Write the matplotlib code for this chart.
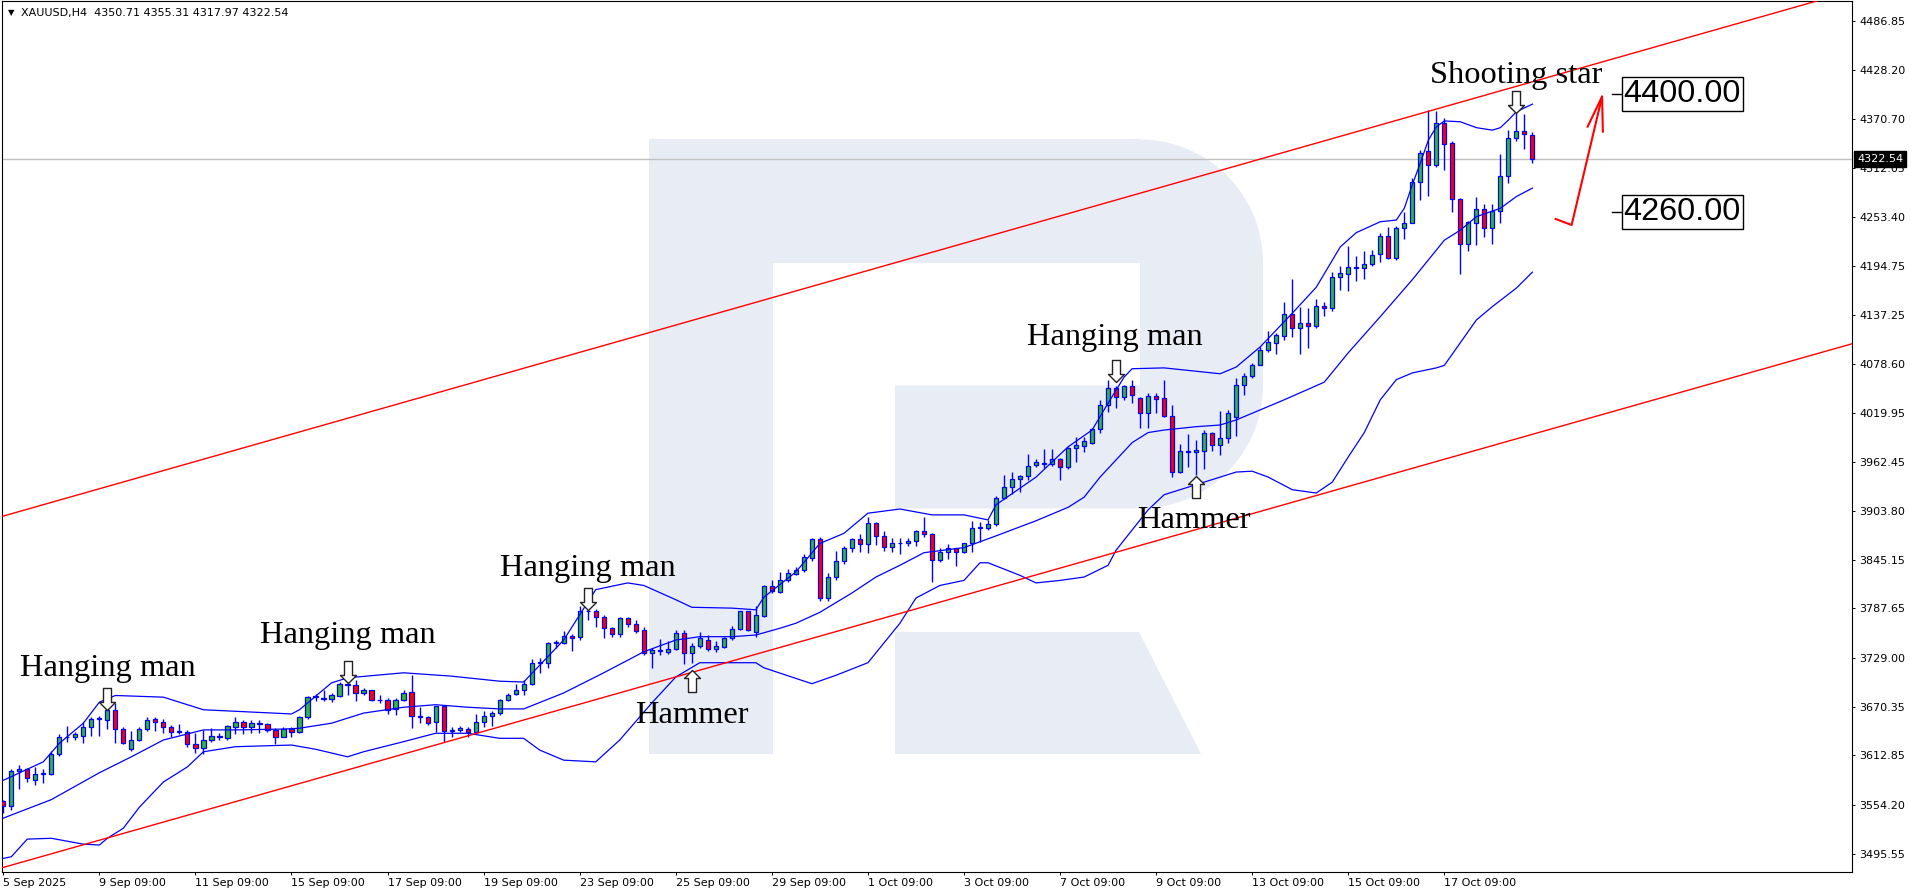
import numpy as np
import matplotlib
matplotlib.use('Agg')
import matplotlib.pyplot as plt
from matplotlib.path import Path
from matplotlib.patches import Polygon, Rectangle

# header of the chart window
header_text = 'XAUUSD,H4  4350.71 4355.31 4317.97 4322.54'
last_price = 4322.54

# H4 candles, first one is 5 Sep 2025 09:00
opens = [3558, 3553, 3594, 3597, 3583, 3590, 3591, 3614, 3634, 3634,
         3636, 3647, 3656, 3655, 3667, 3644, 3620, 3631, 3644, 3656,
         3652, 3647, 3641, 3641, 3626, 3622, 3631, 3635, 3633, 3647,
         3653, 3647, 3651, 3650, 3643, 3635, 3644, 3641, 3658, 3682,
         3681, 3680, 3683, 3698, 3696, 3687, 3690, 3679, 3679, 3668,
         3679, 3688, 3660, 3658, 3652, 3671, 3642, 3643, 3644, 3640,
         3653, 3659, 3663, 3679, 3686, 3690, 3698, 3723, 3723, 3747,
         3747, 3755, 3754, 3785, 3785, 3778, 3764, 3757, 3776, 3769,
         3762, 3734, 3737, 3736, 3739, 3758, 3734, 3743, 3750, 3739,
         3742, 3752, 3763, 3784, 3759, 3779, 3814, 3807, 3822, 3829,
         3833, 3848, 3870, 3800, 3825, 3844, 3859, 3870, 3864, 3889,
         3874, 3861, 3865, 3865, 3868, 3880, 3876, 3845, 3855, 3859,
         3855, 3865, 3883, 3883, 3888, 3919, 3932, 3942, 3945, 3958,
         3961, 3959, 3965, 3956, 3979, 3981, 3984, 4001, 4030, 4050,
         4039, 4052, 4038, 4020, 4040, 4038, 4017, 3950, 3975, 3974,
         3975, 3996, 3982, 3990, 4015, 4054, 4064, 4078, 4095, 4104,
         4112, 4138, 4122, 4128, 4124, 4148, 4145, 4182, 4186, 4194,
         4193, 4198, 4210, 4231, 4205, 4240, 4247, 4295, 4332, 4315,
         4366, 4342, 4275, 4222, 4247, 4263, 4241, 4261, 4302, 4348,
         4356, 4350.71]
highs = [3560, 3596, 3601, 3598, 3599, 3597, 3618, 3638, 3648, 3640,
         3653, 3658, 3659, 3669, 3675, 3646, 3642, 3646, 3658, 3658,
         3656, 3649, 3650, 3643, 3639, 3643, 3645, 3639, 3649, 3658,
         3655, 3655, 3655, 3651, 3645, 3646, 3646, 3660, 3683, 3686,
         3690, 3687, 3700, 3700, 3703, 3693, 3691, 3684, 3681, 3681,
         3690, 3708, 3670, 3660, 3672, 3672, 3647, 3648, 3646, 3662,
         3665, 3665, 3680, 3687, 3698, 3702, 3727, 3729, 3748, 3750,
         3761, 3757, 3791, 3789, 3787, 3780, 3766, 3777, 3778, 3774,
         3765, 3740, 3751, 3749, 3762, 3762, 3746, 3760, 3756, 3749,
         3754, 3767, 3785, 3785, 3790, 3816, 3821, 3831, 3834, 3837,
         3853, 3872, 3873, 3830, 3856, 3862, 3872, 3876, 3897, 3891,
         3880, 3871, 3871, 3872, 3881, 3897, 3877, 3860, 3864, 3860,
         3866, 3892, 3891, 3893, 3921, 3946, 3950, 3947, 3971, 3965,
         3978, 3977, 3967, 3980, 3992, 3992, 4003, 4036, 4060, 4052,
         4054, 4060, 4039, 4044, 4044, 4060, 4030, 3983, 3995, 3988,
         4000, 3998, 4023, 4024, 4062, 4068, 4080, 4099, 4118, 4115,
         4152, 4180, 4146, 4145, 4156, 4153, 4188, 4195, 4219, 4207,
         4213, 4214, 4234, 4242, 4243, 4259, 4300, 4333, 4381, 4380,
         4371, 4344, 4276, 4249, 4277, 4269, 4269, 4329, 4357, 4378,
         4376, 4355.31]
lows = [3544, 3548, 3573, 3581, 3578, 3580, 3589, 3612, 3629, 3631,
        3628, 3636, 3636, 3644, 3627, 3626, 3618, 3630, 3642, 3642,
        3639, 3635, 3638, 3623, 3615, 3614, 3629, 3631, 3631, 3638,
        3638, 3639, 3639, 3641, 3626, 3634, 3634, 3639, 3656, 3678,
        3677, 3676, 3682, 3684, 3678, 3685, 3677, 3675, 3662, 3661,
        3678, 3645, 3651, 3649, 3641, 3629, 3634, 3641, 3634, 3639,
        3647, 3648, 3661, 3677, 3685, 3685, 3696, 3711, 3717, 3740,
        3745, 3737, 3750, 3774, 3765, 3752, 3754, 3754, 3766, 3758,
        3732, 3717, 3732, 3733, 3738, 3722, 3723, 3741, 3737, 3736,
        3741, 3750, 3762, 3761, 3754, 3777, 3806, 3806, 3819, 3828,
        3831, 3844, 3797, 3797, 3821, 3840, 3855, 3855, 3854, 3863,
        3856, 3855, 3852, 3862, 3862, 3873, 3819, 3843, 3847, 3838,
        3854, 3855, 3867, 3881, 3886, 3918, 3924, 3926, 3941, 3956,
        3955, 3957, 3941, 3954, 3962, 3974, 3983, 3996, 4022, 4026,
        4036, 4032, 4002, 4002, 4020, 4016, 3944, 3949, 3956, 3946,
        3954, 3975, 3970, 3985, 3993, 4042, 4062, 4077, 4093, 4091,
        4107, 4111, 4091, 4098, 4122, 4136, 4142, 4167, 4165, 4177,
        4180, 4195, 4200, 4204, 4203, 4228, 4246, 4274, 4279, 4313,
        4310, 4259, 4186, 4213, 4220, 4230, 4222, 4246, 4294, 4344,
        4335, 4317.97]
closes = [3552, 3594, 3597, 3586, 3590, 3592, 3614, 3634, 3635, 3638,
          3647, 3656, 3657, 3667, 3644, 3628, 3631, 3644, 3655, 3652,
          3647, 3641, 3642, 3626, 3622, 3631, 3636, 3636, 3648, 3653,
          3647, 3651, 3650, 3643, 3635, 3644, 3641, 3658, 3682, 3683,
          3680, 3684, 3698, 3696, 3687, 3690, 3679, 3679, 3667, 3679,
          3687, 3659, 3658, 3651, 3671, 3642, 3643, 3645, 3640, 3653,
          3659, 3663, 3679, 3685, 3690, 3698, 3723, 3724, 3747, 3748,
          3755, 3753, 3785, 3784, 3778, 3764, 3757, 3776, 3769, 3761,
          3734, 3738, 3738, 3739, 3758, 3734, 3743, 3752, 3739, 3743,
          3752, 3763, 3784, 3762, 3780, 3814, 3808, 3822, 3830, 3833,
          3849, 3870, 3800, 3825, 3844, 3860, 3870, 3864, 3889, 3874,
          3861, 3865, 3866, 3868, 3880, 3876, 3845, 3855, 3859, 3855,
          3865, 3883, 3884, 3888, 3919, 3932, 3942, 3945, 3957, 3962,
          3960, 3965, 3956, 3979, 3982, 3987, 4001, 4030, 4050, 4039,
          4052, 4042, 4020, 4040, 4037, 4017, 3950, 3975, 3974, 3976,
          3996, 3982, 3990, 4020, 4054, 4064, 4078, 4095, 4105, 4113,
          4138, 4122, 4128, 4124, 4148, 4145, 4182, 4187, 4194, 4193,
          4198, 4208, 4231, 4205, 4240, 4247, 4295, 4330, 4315, 4366,
          4341, 4275, 4222, 4248, 4263, 4241, 4261, 4302, 4348, 4356,
          4352, 4322.54]

# time axis labels, one every 12 bars
x_tick_bars = [0, 12, 24, 36, 48, 60, 72, 84, 96, 108, 120, 132, 144, 156, 168, 180]
x_tick_labels = ['5 Sep 2025', '9 Sep 09:00', '11 Sep 09:00', '15 Sep 09:00',
                 '17 Sep 09:00', '19 Sep 09:00', '23 Sep 09:00', '25 Sep 09:00',
                 '29 Sep 09:00', '1 Oct 09:00', '3 Oct 09:00', '7 Oct 09:00',
                 '9 Oct 09:00', '13 Oct 09:00', '15 Oct 09:00', '17 Oct 09:00']
y_tick_values = [4486.85, 4428.20, 4370.70, 4312.05, 4253.40, 4194.75, 4137.25,
                 4078.60, 4019.95, 3962.45, 3903.80, 3845.15, 3787.65, 3729.00,
                 3670.35, 3612.85, 3554.20, 3495.55]

# bollinger bands, read at a number of bars
bb_upper_bars = [0, 5, 7, 10, 12, 14, 20, 25, 36, 37, 41, 43, 50, 56, 62, 65, 67, 70, 72, 74,
                 78, 80, 84, 86, 91, 94, 95, 99, 102, 105, 108, 112, 116, 120, 123, 124, 129,
                 133, 136, 138, 140, 141, 145, 149, 152, 154, 157, 161, 164, 167, 169, 172,
                 174, 175, 176, 177, 178, 179, 180, 182, 184, 186, 187, 188, 189, 191]
bb_upper = [3583, 3605, 3627, 3651, 3676, 3684, 3682, 3667, 3662, 3667, 3699, 3705, 3711,
            3707, 3701, 3700, 3720, 3750, 3780, 3810, 3818, 3815, 3798, 3789, 3788, 3786,
            3801, 3831, 3865, 3877, 3901, 3906, 3899, 3899, 3893, 3911, 3944, 3980, 4000,
            4032, 4063, 4073, 4074, 4070, 4067, 4075, 4099, 4139, 4170, 4218, 4235, 4248,
            4250, 4264, 4292, 4318, 4345, 4361, 4368, 4367, 4360, 4357, 4360, 4369, 4379, 4388]
bb_mid_bars = [0, 6, 12, 16, 20, 25, 29, 35, 37, 41, 45, 50, 54, 58, 62, 65, 70, 75, 80, 84,
               87, 91, 94, 97, 99, 102, 106, 109, 112, 115, 120, 124, 129, 133, 135, 137, 141,
               143, 145, 149, 152, 154, 156, 160, 165, 168, 172, 176, 180, 182, 184, 187, 189, 191]
bb_mid = [3538, 3560, 3592, 3611, 3631, 3643, 3643, 3644, 3645, 3651, 3663, 3670, 3673, 3670,
          3668, 3668, 3687, 3711, 3736, 3750, 3754, 3754, 3756, 3764, 3770, 3783, 3806, 3825,
          3839, 3854, 3860, 3874, 3892, 3908, 3920, 3944, 3985, 3997, 4000, 4004, 4006, 4012,
          4020, 4036, 4057, 4092, 4135, 4179, 4226, 4238, 4254, 4264, 4278, 4288]
bb_lower_bars = [0, 1, 3, 6, 10, 12, 13, 15, 17, 20, 23, 25, 29, 36, 39, 43, 45, 50, 54, 58,
                 62, 65, 67, 70, 74, 77, 81, 84, 87, 94, 95, 101, 104, 108, 112, 114, 117, 120,
                 122, 123, 127, 129, 132, 135, 138, 139, 140, 143, 145, 149, 152, 154, 156, 158,
                 161, 164, 166, 168, 170, 172, 174, 176, 179, 180, 182, 184, 186, 189, 191]
bb_lower = [3490, 3492, 3513, 3514, 3507, 3506, 3514, 3526, 3551, 3581, 3599, 3617, 3623, 3625,
            3620, 3611, 3617, 3629, 3639, 3639, 3633, 3633, 3619, 3607, 3605, 3631, 3675, 3706,
            3723, 3723, 3717, 3698, 3708, 3723, 3770, 3800, 3815, 3821, 3842, 3842, 3827, 3818,
            3821, 3825, 3839, 3857, 3869, 3905, 3923, 3935, 3944, 3950, 3951, 3944, 3929, 3925,
            3938, 3968, 3997, 4036, 4060, 4068, 4074, 4077, 4104, 4131, 4147, 4169, 4188]

# rising channel (end points in bar / price)
channel_bars = [-1, 232]
channel_upper = [3894.9, 4525.6]
channel_lower = [3476.6, 4105.6]

# candlestick patterns: name, bar, price at the arrow tip, arrow direction
pattern_names = ['Hanging man', 'Hanging man', 'Hanging man', 'Hammer',
                 'Hanging man', 'Hammer', 'Shooting star']
pattern_bars = [13, 43, 73, 86, 139, 149, 189]
pattern_prices = [3666.7, 3698.8, 3785.7, 3714.3, 4057.2, 3945.3, 4377.5]
pattern_dirs = ['down', 'down', 'down', 'up', 'down', 'up', 'down']

# target levels and forecast path
level_values = [4400.00, 4260.00]
forecast_bars = [193.9, 195.9, 199.7]
forecast_prices = [4251.3, 4244.1, 4396.9]
forecast_head_bars = [197.9, 199.7, 199.8]
forecast_head_prices = [4361.2, 4396.9, 4355.2]


W, H = 1916, 896
fig = plt.figure(figsize=(W / 100, H / 100), dpi=100, facecolor='white')

# background layer in pixels for the broker logo watermark
bg = fig.add_axes([0, 0, 1, 1])
bg.set_xlim(0, W)
bg.set_ylim(H, 0)
bg.axis('off')
logo_color = '#E8EDF5'
bg.add_patch(Rectangle((649, 139.5), 124, 614.5, fc=logo_color, ec='none'))
bg.add_patch(Rectangle((773, 139.5), 367, 123.5, fc=logo_color, ec='none'))
r = 123
t1 = np.linspace(-np.pi / 2, 0, 30)
t2 = np.linspace(0, np.pi / 2, 30)
bowl = [(1140, 139.5)]
bowl += list(zip(1140 + r * np.cos(t1), 262.5 + r * np.sin(t1)))
bowl += list(zip(1140 + r * np.cos(t2), 385.5 + r * np.sin(t2)))
bowl += [(895, 508.5), (895, 385.5), (1140, 385.5)]
bg.add_patch(Polygon(bowl, closed=True, fc=logo_color, ec='none'))
bg.add_patch(Polygon([(895, 632), (1139, 632), (1201, 754), (895, 754)],
                     closed=True, fc=logo_color, ec='none'))

# main price chart
ax = fig.add_axes([2 / W, (H - 872) / H, 1850 / W, 871 / H])
ax.set_zorder(2)
ax.patch.set_alpha(0)
ax.set_xlim(-0.16, 230.92)
ax.set_ylim(3473.85, 4510.78)

idx = np.arange(len(closes))
o = np.array(opens)
c = np.array(closes)
blue = '#0000FF'

ax.axhline(last_price, color='#C0C0C0', lw=1, zorder=1)

ax.vlines(idx, lows, highs, colors=blue, lw=1.0, zorder=3)
body_col = np.where(c >= o, '#32B832', '#FF0000')
ax.bar(idx, c - o, bottom=o, width=0.52, color=body_col, edgecolor=blue,
       linewidth=0.9, zorder=4)

for bars, vals in [(bb_upper_bars, bb_upper), (bb_mid_bars, bb_mid), (bb_lower_bars, bb_lower)]:
    ax.plot(bars, vals, color=blue, lw=0.9, zorder=5)

ax.plot(channel_bars, channel_upper, color='#FF0000', lw=1.0, zorder=6)
ax.plot(channel_bars, channel_lower, color='#FF0000', lw=1.0, zorder=6)

# block arrows for the patterns, tip at the origin of the marker path
down_verts = [(0, 0), (8, 8), (4, 8), (4, 22), (-4, 22), (-4, 8), (-8, 8), (0, 0)]
codes = [Path.MOVETO] + [Path.LINETO] * 6 + [Path.CLOSEPOLY]
down_arrow = Path(down_verts, codes)
up_arrow = Path([(x, -y) for x, y in down_verts], codes)
# text offsets (px) from the arrow tip
text_offsets = [(0, 34), (0, 40), (0, 34), (0, -53), (-1, 37), (-2, -52), (0, 30)]

for name, b, p, d, (dx, dy) in zip(pattern_names, pattern_bars, pattern_prices,
                                   pattern_dirs, text_offsets):
    m = down_arrow if d == 'down' else up_arrow
    ax.plot([b], [p], marker=m, markersize=31.7, markerfacecolor='white',
            markeredgecolor='#222222', markeredgewidth=1.0, zorder=8)
    ax.annotate(name, xy=(b, p), xytext=(dx * 0.72, dy * 0.72), textcoords='offset points',
                ha='center', va='baseline', fontsize=23.4, family='Liberation Serif',
                color='black', zorder=9)

# target levels with small ticks
for lv in level_values:
    ax.plot([200.9, 202.2], [lv, lv], color='black', lw=1, zorder=7)
    ax.text(202.4, lv, '%.2f' % lv, ha='left', va='center', fontsize=23.4,
            family='Liberation Sans', color='black', zorder=9,
            bbox=dict(boxstyle='square,pad=0.06', fc='white', ec='black', lw=1))

ax.plot(forecast_bars, forecast_prices, color='#FF0000', lw=1.5, zorder=7)
ax.plot(forecast_head_bars, forecast_head_prices, color='#FF0000', lw=1.5, zorder=7)

# axes look like the terminal
for s in ax.spines.values():
    s.set_color('black')
    s.set_linewidth(0.8)
ax.yaxis.tick_right()
ax.set_yticks(y_tick_values)
ax.set_yticklabels(['%.2f' % v for v in y_tick_values])
ax.set_xticks(x_tick_bars)
ax.set_xticklabels(x_tick_labels, ha='left')
ax.tick_params(axis='y', which='both', direction='out', length=2.5, width=0.7, pad=2.5,
               labelsize=8, colors='black', left=False)
ax.tick_params(axis='x', which='both', direction='out', length=2.5, width=0.7, pad=1.5,
               labelsize=8, colors='black')

ax.text(1 + 5 / 1850, last_price, '%.2f' % last_price, transform=ax.get_yaxis_transform(),
        ha='left', va='center', fontsize=8, color='white', zorder=10, clip_on=False,
        bbox=dict(boxstyle='square,pad=0.25', fc='black', ec='black'))

fig.text(11 / W, 1 - 12.5 / H, '\u25bc', fontsize=6, ha='center', va='center')
fig.text(20.7 / W, 1 - 13.3 / H, header_text, fontsize=8, ha='left', va='center')

fig.savefig('out.png', dpi=100, facecolor='white')
